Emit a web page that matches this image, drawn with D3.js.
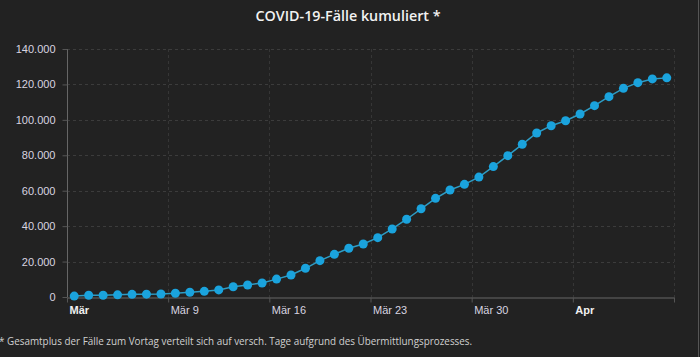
<!DOCTYPE html>
<html>
<head>
<meta charset="utf-8">
<script src="https://cdn.jsdelivr.net/npm/d3@7"></script>
<style>
  html, body { margin: 0; padding: 0; background: #222222; }
  svg { display: block; }
</style>
</head>
<body>
<svg id="chart" width="700" height="357"></svg>
<script>
// Data: cumulative COVID-19 cases, one point per day from 2 March to 12 April
const startDate = "2020-03-02";
const cases = [
  500, 1000, 1000, 1200, 1500, 1600, 1700,
  2100, 2700, 3200, 4000, 5800, 6800, 7900,
  10100, 12400, 16200, 20500, 24100, 27500, 29900,
  33500, 38400, 43900, 49800, 55700, 60400, 63600,
  67700, 73600, 79800, 86200, 92600, 96700, 99500,
  103300, 108000, 113100, 117800, 121000, 123100, 123700
];
const yTicks = [0, 20000, 40000, 60000, 80000, 100000, 120000, 140000];
const xTickDays = [0, 7, 14, 21, 28, 35, 42];
const xTickLabels = ["Mär", "Mär 9", "Mär 16", "Mär 23", "Mär 30", "Apr", ""];
const xTickBold = [true, false, false, false, false, true, false];
const title = "COVID-19-Fälle kumuliert *";
const footnote = "* Gesamtplus der Fälle zum Vortag verteilt sich auf versch. Tage aufgrund des Übermittlungsprozesses.";

(function () {
const svg = d3.select("#chart");
const W = 700, H = 357;
const mLeft = 67, mRight = 674, mTop = 49, mBottom = 297;

const x = d3.scaleLinear().domain([0, 42]).range([mLeft, mRight]);
const y = d3.scaleLinear().domain([0, 140000]).range([mBottom, mTop]);
const fmt = v => d3.format(",")(v).replace(/,/g, ".");

// title
svg.append("text")
  .attr("x", 348).attr("y", 21)
  .attr("text-anchor", "middle")
  .attr("fill", "#f2f2f2")
  .attr("font-family", "Open Sans, sans-serif")
  .attr("font-weight", 600)
  .attr("font-size", 14.3)
  .text(title);

// horizontal gridlines
svg.append("g").selectAll("line").data(yTicks.filter(d => d > 0)).join("line")
  .attr("x1", mLeft).attr("x2", mRight)
  .attr("y1", d => Math.round(y(d)) + 0.5).attr("y2", d => Math.round(y(d)) + 0.5)
  .attr("stroke", "#3c3c3c").attr("stroke-dasharray", "3,3");

// vertical gridlines
svg.append("g").selectAll("line").data(xTickDays.slice(1)).join("line")
  .attr("x1", d => Math.round(x(d)) + 0.5).attr("x2", d => Math.round(x(d)) + 0.5)
  .attr("y1", mTop).attr("y2", mBottom)
  .attr("stroke", "#363636").attr("stroke-dasharray", "3,3");

// y axis
const yAxis = d3.axisLeft(y).tickValues(yTicks).tickFormat(fmt).tickSize(5).tickPadding(7);
const gy = svg.append("g").attr("transform", `translate(${mLeft + 0.5},0)`).call(yAxis);
gy.select(".domain").attr("stroke", "#666").attr("d", `M0,${mTop}V${mBottom}`);
gy.selectAll(".tick line").attr("stroke", "#555");
gy.selectAll(".tick text")
  .attr("fill", "#d8d4e0")
  .attr("font-family", "Liberation Sans, Arial, sans-serif")
  .attr("font-size", 11);

// x axis
const xAxis = d3.axisBottom(x).tickValues(xTickDays).tickFormat((d, i) => xTickLabels[i]).tickSize(5).tickSizeOuter(0).tickPadding(4);
const gx = svg.append("g").attr("transform", `translate(0,${mBottom + 0.5})`).call(xAxis);
gx.select(".domain").attr("stroke", "#666");
gx.selectAll(".tick line").attr("stroke", "#555");
gx.selectAll(".tick text")
  .attr("text-anchor", "start")
  .attr("dx", 2)
  .attr("fill", (d, i) => xTickBold[i] ? "#f0f0f0" : "#d8d4e0")
  .attr("font-weight", (d, i) => xTickBold[i] ? "bold" : "normal")
  .attr("font-family", "Liberation Sans, Arial, sans-serif")
  .attr("font-size", 11);

// line
const line = d3.line().x((d, i) => x(i + 0.5)).y(d => y(d));
svg.append("path").datum(cases)
  .attr("d", line)
  .attr("fill", "none")
  .attr("stroke", "#2e9cc4")
  .attr("stroke-width", 1.5);

// points
svg.append("g").selectAll("circle").data(cases).join("circle")
  .attr("cx", (d, i) => x(i + 0.5))
  .attr("cy", d => y(d))
  .attr("r", 4.5)
  .attr("fill", "#1aa3dd");

// footnote
svg.append("text")
  .attr("x", -1).attr("y", 345)
  .attr("fill", "#d0d0d0")
  .attr("font-family", "Open Sans, sans-serif")
  .attr("font-size", 9.9)
  .text(footnote);

// right edge line
svg.append("line")
  .attr("x1", 698.5).attr("x2", 698.5).attr("y1", 0).attr("y2", H)
  .attr("stroke", "#555");
})();
</script>
</body>
</html>
